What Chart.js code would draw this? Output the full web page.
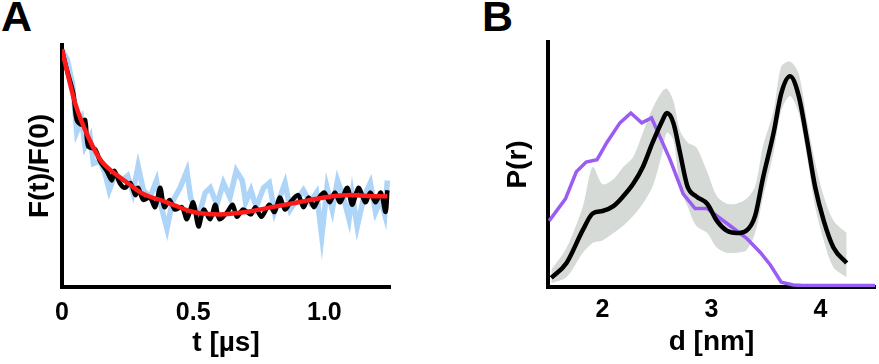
<!DOCTYPE html>
<html>
<head>
<meta charset="utf-8">
<script src="https://cdn.jsdelivr.net/npm/chart.js@4.4.1/dist/chart.umd.min.js"></script>
<style>
  html, body { margin: 0; padding: 0; background: #fff; }
  body { width: 879px; height: 364px; position: relative; overflow: hidden; font-family: "Liberation Sans", Arial, sans-serif; }
  .panel-label { position: absolute; font-weight: 700; font-size: 43px; line-height: 1; color: #000; }
  #wrapA { position: absolute; left: 0; top: 0; width: 440px; height: 364px; }
  #wrapB { position: absolute; left: 440px; top: 0; width: 439px; height: 364px; }
</style>
</head>
<body>
<div class="panel-label" style="left:1px;top:-5px">A</div>
<div class="panel-label" style="left:482px;top:-5px">B</div>
<div id="wrapA"><canvas id="chartA" width="440" height="364"></canvas></div>
<div id="wrapB"><canvas id="chartB" width="439" height="364"></canvas></div>
<script>
// Panel A: fluorescence decay F(t)/F(0) vs t [µs]
const fitT   = [0, 0.05, 0.1, 0.15, 0.2, 0.25, 0.3, 0.4, 0.5, 0.6, 0.7, 0.8, 0.9, 1.0, 1.1, 1.2, 1.24];
const fitVal = [0.98, 0.76, 0.62, 0.52, 0.47, 0.43, 0.39, 0.35, 0.31, 0.30, 0.31, 0.33, 0.35, 0.37, 0.38, 0.375, 0.375];

const blackT = [0, 0.018, 0.043, 0.056, 0.075, 0.088, 0.10, 0.126, 0.145, 0.17, 0.19, 0.20, 0.22, 0.24, 0.26, 0.28, 0.29, 0.31, 0.335, 0.355, 0.374, 0.39, 0.41, 0.43, 0.457, 0.476, 0.50, 0.52, 0.54, 0.565, 0.584, 0.60, 0.63, 0.65, 0.667, 0.69, 0.72, 0.737, 0.76, 0.79, 0.81, 0.83, 0.85, 0.87, 0.90, 0.92, 0.94, 0.96, 0.98, 1.0, 1.02, 1.04, 1.06, 1.087, 1.106, 1.13, 1.156, 1.175, 1.195, 1.215, 1.233, 1.24];
const blackVal = [0.98, 0.90, 0.80, 0.69, 0.67, 0.69, 0.58, 0.57, 0.52, 0.48, 0.44, 0.48, 0.43, 0.41, 0.43, 0.38, 0.41, 0.36, 0.37, 0.33, 0.41, 0.33, 0.36, 0.32, 0.33, 0.28, 0.35, 0.25, 0.32, 0.28, 0.34, 0.28, 0.31, 0.34, 0.29, 0.32, 0.30, 0.33, 0.29, 0.34, 0.31, 0.37, 0.32, 0.35, 0.38, 0.33, 0.37, 0.33, 0.37, 0.39, 0.35, 0.39, 0.35, 0.41, 0.34, 0.41, 0.35, 0.39, 0.35, 0.39, 0.31, 0.40];

const blueT = [0, 0.02, 0.04, 0.056, 0.075, 0.088, 0.107, 0.12, 0.145, 0.164, 0.18, 0.20, 0.228, 0.25, 0.27, 0.29, 0.31, 0.335, 0.36, 0.374, 0.40, 0.42, 0.45, 0.476, 0.49, 0.52, 0.546, 0.565, 0.59, 0.615, 0.64, 0.664, 0.687, 0.70, 0.72, 0.74, 0.768, 0.79, 0.81, 0.83, 0.85, 0.87, 0.895, 0.92, 0.945, 0.97, 0.99, 1.01, 1.03, 1.05, 1.075, 1.094, 1.106, 1.125, 1.15, 1.175, 1.195, 1.215, 1.23, 1.24];
const blueVal = [0.98, 0.94, 0.84, 0.64, 0.69, 0.58, 0.62, 0.51, 0.52, 0.47, 0.40, 0.46, 0.44, 0.46, 0.39, 0.50, 0.40, 0.37, 0.44, 0.35, 0.24, 0.35, 0.41, 0.48, 0.37, 0.29, 0.39, 0.41, 0.34, 0.43, 0.37, 0.48, 0.44, 0.35, 0.40, 0.33, 0.41, 0.43, 0.31, 0.37, 0.43, 0.32, 0.36, 0.40, 0.35, 0.39, 0.21, 0.41, 0.32, 0.44, 0.36, 0.28, 0.38, 0.25, 0.37, 0.43, 0.31, 0.36, 0.30, 0.44];

const tTicks = [0, 0.5, 1.0];

// Panel B: distance distribution P(r) vs d [nm]
const distD   = [1.53, 1.67, 1.82, 1.91, 2.0, 2.10, 2.19, 2.28, 2.37, 2.46, 2.55, 2.59, 2.65, 2.71, 2.78, 2.86, 2.96, 3.05, 3.14, 3.23, 3.32, 3.40, 3.47, 3.57, 3.64, 3.72, 3.80, 3.88, 3.95, 4.03, 4.12, 4.24];
const distVal = [0.037, 0.098, 0.233, 0.30, 0.31, 0.33, 0.37, 0.42, 0.49, 0.59, 0.68, 0.71, 0.67, 0.55, 0.41, 0.37, 0.34, 0.27, 0.23, 0.22, 0.23, 0.29, 0.44, 0.63, 0.79, 0.86, 0.78, 0.59, 0.41, 0.27, 0.16, 0.098];
const bandUpper = [0.07, 0.16, 0.33, 0.49, 0.42, 0.44, 0.49, 0.53, 0.63, 0.73, 0.80, 0.81, 0.76, 0.64, 0.59, 0.57, 0.47, 0.37, 0.34, 0.34, 0.36, 0.41, 0.57, 0.72, 0.90, 0.92, 0.87, 0.67, 0.51, 0.37, 0.27, 0.22];
const bandLower = [0.016, 0.04, 0.14, 0.18, 0.19, 0.22, 0.25, 0.29, 0.34, 0.41, 0.55, 0.63, 0.60, 0.41, 0.33, 0.25, 0.22, 0.16, 0.14, 0.14, 0.15, 0.22, 0.36, 0.55, 0.72, 0.78, 0.71, 0.52, 0.33, 0.19, 0.08, 0.04];

const purpleD   = [1.51, 1.66, 1.76, 1.85, 1.95, 2.04, 2.16, 2.26, 2.36, 2.45, 2.62, 2.74, 2.85, 2.96, 3.05, 3.17, 3.32, 3.45, 3.54, 3.64, 3.75, 3.84, 4.5];
const purpleVal = [0.27, 0.36, 0.47, 0.51, 0.52, 0.59, 0.67, 0.71, 0.67, 0.69, 0.52, 0.38, 0.32, 0.32, 0.29, 0.25, 0.20, 0.14, 0.09, 0.02, 0.008, 0.006, 0.006];

const dTicks = [2, 3, 4];

const FONT = '"Liberation Sans", Arial, sans-serif';
const pts = (xs, ys) => xs.map((x, i) => ({ x, y: ys[i] }));

function axisX(min, max, ticks, fmt, title, tickPad, titlePad) {
  return {
    type: 'linear', min, max,
    grid: { display: false, drawTicks: false },
    border: { display: true, color: '#000', width: 4 },
    afterBuildTicks: (s) => { s.ticks = ticks.map(v => ({ value: v })); },
    afterFit: (s) => { s.height = 77; },
    ticks: { color: '#000', padding: tickPad, font: { family: FONT, size: 25, weight: 'bold' }, callback: fmt, maxRotation: 0 },
    title: { display: true, text: title, color: '#000', font: { family: FONT, size: 28, weight: 'bold' }, padding: { top: 0, bottom: titlePad } }
  };
}

function axisY(width, title, titlePad) {
  return {
    type: 'linear', min: 0, max: 1,
    grid: { display: false, drawTicks: false },
    border: { display: true, color: '#000', width: 4 },
    ticks: { display: false },
    afterFit: (s) => { s.width = width; },
    title: { display: true, text: title, color: '#000', font: { family: FONT, size: 28, weight: 'bold' }, padding: { top: titlePad, bottom: 0 } }
  };
}

const common = {
  responsive: false,
  animation: false,
  plugins: { legend: { display: false }, tooltip: { enabled: false } },
  elements: { point: { radius: 0 } }
};

new Chart(document.getElementById('chartA'), {
  type: 'line',
  data: {
    datasets: [
      { data: pts(fitT, fitVal), borderColor: '#ff1a1a', borderWidth: 4.5, tension: 0.4, cubicInterpolationMode: 'monotone' },
      { data: pts(blackT, blackVal), borderColor: '#000', borderWidth: 4.5, tension: 0.3 },
      { data: pts(blueT, blueVal), borderColor: '#aed4f7', borderWidth: 5.5, tension: 0 }
    ]
  },
  options: {
    ...common,
    layout: { padding: { left: 0, right: 50, top: 45, bottom: 0 } },
    scales: {
      x: axisX(0, 1.25, tTicks, v => v === 0 ? '0' : v.toFixed(1), 't [µs]', 11, 4),
      y: axisY(62, 'F(t)/F(0)', 23)
    }
  }
});

new Chart(document.getElementById('chartB'), {
  type: 'line',
  data: {
    datasets: [
      { data: pts(distD, distVal), borderColor: '#000', borderWidth: 4.5, tension: 0.4, cubicInterpolationMode: 'monotone' },
      { data: pts(purpleD, purpleVal), borderColor: '#9a5cf2', borderWidth: 3.5, tension: 0 },
      { data: pts(distD, bandUpper), borderWidth: 0, borderColor: 'rgba(0,0,0,0)', backgroundColor: '#d5dad7', fill: '+1', tension: 0.3 },
      { data: pts(distD, bandLower), borderWidth: 0, borderColor: 'rgba(0,0,0,0)', fill: false, tension: 0.3 }
    ]
  },
  options: {
    ...common,
    layout: { padding: { left: 0, right: 4, top: 42, bottom: 0 } },
    scales: {
      x: axisX(1.5, 4.5, dTicks, v => String(v), 'd [nm]', 8, 5),
      y: axisY(108, 'P(r)', 61)
    }
  }
});
</script>
</body>
</html>
